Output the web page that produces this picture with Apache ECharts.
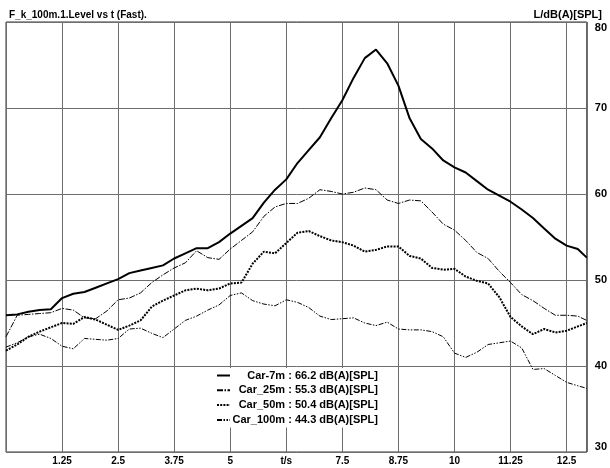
<!DOCTYPE html>
<html>
<head>
<meta charset="utf-8">
<script src="https://cdn.jsdelivr.net/npm/echarts@6.0.0/dist/echarts.min.js"></script>
<style>
  html, body { margin: 0; padding: 0; background: #fff; }
  #chart { width: 610px; height: 468px; }
</style>
</head>
<body>
<div id="chart"></div>
<script>
// time axis, seconds
var times = [0, 0.25, 0.5, 0.75, 1, 1.25, 1.5, 1.75, 2, 2.25, 2.5, 2.75, 3, 3.25, 3.5, 3.75,
  4, 4.25, 4.5, 4.75, 5, 5.25, 5.5, 5.75, 6, 6.25, 6.5, 6.75, 7, 7.25, 7.5, 7.75,
  8, 8.25, 8.5, 8.75, 9, 9.25, 9.5, 9.75, 10, 10.25, 10.5, 10.75, 11, 11.25, 11.5, 11.75,
  12, 12.25, 12.5, 12.75, 12.95];

// levels in dB(A)
var car7m = [45.9, 46.0, 46.3, 46.5, 46.6, 47.9, 48.4, 48.6, 49.1, 49.6, 50.1, 50.8, 51.1, 51.4, 51.7, 52.5,
  53.1, 53.7, 53.7, 54.4, 55.4, 56.3, 57.2, 59.0, 60.5, 61.7, 63.6, 65.1, 66.6, 68.8, 70.9, 73.5,
  75.8, 76.8, 75.2, 72.6, 68.8, 66.4, 65.3, 63.9, 63.1, 62.5, 61.5, 60.5, 59.8, 59.1, 58.2, 57.2,
  56.0, 54.8, 54.0, 53.6, 52.6];
var car25m = [43.4, 45.9, 46.0, 46.1, 46.2, 46.7, 46.5, 45.6, 45.5, 46.4, 47.7, 47.9, 48.5, 49.7, 50.6, 51.4,
  52.0, 53.4, 52.6, 52.4, 53.6, 54.6, 55.6, 57.4, 58.5, 58.9, 58.9, 59.5, 60.5, 60.3, 60.0, 60.2,
  60.7, 60.5, 59.3, 58.9, 59.3, 59.2, 57.9, 56.5, 55.8, 54.6, 53.2, 52.5, 51.0, 49.7, 48.3, 47.6,
  46.7, 45.9, 45.9, 45.8, 45.3];
var car50m = [41.8, 42.5, 43.4, 44.0, 44.5, 45.0, 44.9, 45.7, 45.4, 44.8, 44.2, 44.7, 45.3, 46.9, 47.6, 48.2,
  48.8, 49.0, 48.8, 49.0, 49.6, 49.7, 51.9, 53.3, 53.1, 54.3, 55.5, 55.7, 55.1, 54.6, 54.4, 54.0,
  53.3, 53.5, 53.9, 53.9, 52.8, 52.5, 51.4, 51.2, 51.3, 50.4, 49.9, 49.6, 48.0, 45.7, 44.6, 43.7,
  44.3, 43.9, 44.1, 44.6, 45.0];
var car100m = [42.2, 42.7, 43.4, 43.7, 43.2, 42.3, 42.0, 43.2, 43.1, 43.0, 43.2, 44.3, 44.4, 43.8, 43.3, 44.3,
  45.3, 45.8, 46.5, 47.1, 48.2, 48.5, 47.6, 47.2, 47.0, 47.7, 47.4, 46.8, 45.8, 45.4, 45.5, 45.6,
  45.0, 44.7, 45.1, 44.3, 44.2, 44.2, 44.0, 43.4, 41.5, 41.0, 41.6, 42.5, 42.7, 42.9, 42.1, 39.6,
  39.7, 38.9, 38.1, 37.7, 37.4];

var seriesNames = ['Car-7m', 'Car_25m', 'Car_50m', 'Car_100m'];
var averages = ['66.2', '55.3', '50.4', '44.3'];
var xTickLabels = ['1.25', '2.5', '3.75', '5', 't/s', '7.5', '8.75', '10', '11.25', '12.5'];

var font = '"Liberation Sans", Arial, sans-serif';
var chart = echarts.init(document.getElementById('chart'));

function pairs(vals) {
  return times.map(function (t, i) { return [t, vals[i]]; });
}

var styles = [
  { width: 2, type: 'solid' },
  { width: 1, type: [6, 1.5, 1.5, 1.5] },
  { width: 2, type: [2, 1.2] },
  { width: 1, type: [5, 1.5, 1.5, 1.5, 1.5, 1.5] }
];
var allData = [car7m, car25m, car50m, car100m];

var option = {
  animation: false,
  backgroundColor: '#fff',
  title: [
    { text: 'F_k_100m.1.Level vs t (Fast).', left: 4, top: 5,
      textStyle: { fontFamily: font, fontSize: 10, fontWeight: 'bold', color: '#000' } },
    { text: 'L/dB(A)[SPL]', right: 3, top: 4,
      textStyle: { fontFamily: font, fontSize: 11, fontWeight: 'bold', color: '#000' } }
  ],
  grid: { left: 6, right: 22, top: 22, bottom: 16, show: true, borderColor: '#333', borderWidth: 1, backgroundColor: '#fff' },
  legend: {
    orient: 'vertical', left: 212, top: 368,
    backgroundColor: '#fff', padding: [2, 8, 2, 4],
    itemWidth: 13, itemHeight: 10, itemGap: 3.8,
    itemStyle: { color: 'rgba(0,0,0,0)', borderWidth: 0, opacity: 0 },
    data: seriesNames,
    formatter: function (name) {
      var i = seriesNames.indexOf(name);
      return '{a|' + name + ' : ' + averages[i] + ' dB(A)[SPL]}';
    },
    textStyle: {
      fontFamily: font, fontSize: 11, fontWeight: 'bold', color: '#000',
      rich: {
        a: { width: 143, align: 'right', lineHeight: 11, fontFamily: font, fontSize: 11, fontWeight: 'bold', color: '#000' }
      }
    }
  },
  xAxis: {
    type: 'value', min: 0, max: 12.95, interval: 1.25,
    axisLine: { show: false }, axisTick: { show: false },
    splitLine: { show: true, lineStyle: { color: '#6e6e6e', width: 1 } },
    axisLabel: {
      margin: 4, fontFamily: font, fontSize: 10, fontWeight: 'bold', color: '#000',
      formatter: function (v) {
        var k = Math.round(v / 1.25);
        if (Math.abs(v - k * 1.25) > 1e-6 || k < 1 || k > xTickLabels.length) return '';
        return xTickLabels[k - 1];
      }
    }
  },
  yAxis: {
    type: 'value', position: 'right', min: 30, max: 80, interval: 10,
    axisLine: { show: false }, axisTick: { show: false },
    splitLine: { show: true, lineStyle: { color: '#6e6e6e', width: 1 } },
    axisLabel: {
      margin: 8, fontFamily: font, fontSize: 11, fontWeight: 'bold', color: '#000',
      verticalAlignMaxLabel: 'top', verticalAlignMinLabel: 'bottom'
    }
  },
  series: seriesNames.map(function (name, i) {
    return {
      name: name, type: 'line', showSymbol: false, symbol: 'none',
      data: pairs(allData[i]),
      lineStyle: { color: '#000', width: styles[i].width, type: styles[i].type },
      itemStyle: { color: '#000' },
      z: 4 - i
    };
  })
};
chart.setOption(option);
</script>
</body>
</html>
